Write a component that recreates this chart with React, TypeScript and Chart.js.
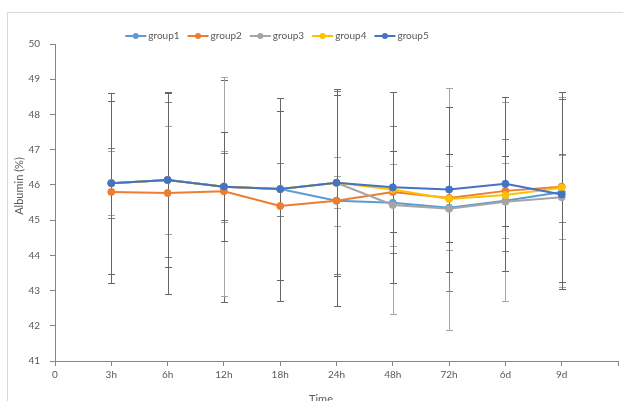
import React, { useEffect, useRef } from "react";
import { Chart, registerables } from "chart.js";
Chart.register(...registerables);

const timeLabels = ["0", "3h", "6h", "12h", "18h", "24h", "48h", "72h", "6d", "9d", ""];
const seriesNames = ["group1", "group2", "group3", "group4", "group5"];
const seriesColors = ["#5B9BD5", "#ED7D31", "#A5A5A5", "#FFC000", "#4472C4"];
const errorColors = ["#A6A6A6", "#666666", "#A6A6A6", "#808080", "#666666"];

const group1 = [46.05, 46.14, 45.95, 45.88, 45.55, 45.49, 45.35, 45.55, 45.8];
const group2 = [45.8, 45.77, 45.82, 45.4, 45.55, 45.8, 45.63, 45.83, 45.95];
const group3 = [46.05, 46.14, 45.95, 45.88, 46.06, 45.43, 45.32, 45.52, 45.65];
const group4 = [46.05, 46.14, 45.95, 45.88, 46.06, 45.87, 45.6, 45.71, 45.92];
const group5 = [46.05, 46.14, 45.95, 45.88, 46.06, 45.93, 45.87, 46.03, 45.73];

const sd1 = [2.57, 2.48, 1.0, 0.75, 0.71, 3.16, 1.2, 1.07, 2.7];
const sd2 = [2.58, 2.87, 3.15, 2.69, 3.0, 1.15, 1.25, 0.99, 2.7];
const sd3 = [0.91, 1.54, 3.1, 2.59, 0.72, 1.17, 3.43, 2.82, 1.2];
const sd4 = [1.0, 2.2, 0.95, 0.75, 2.6, 1.8, 2.6, 1.58, 0.97];
const sd5 = [2.57, 2.48, 1.55, 2.59, 2.66, 2.71, 2.35, 2.47, 2.7];

const means = [group1, group2, group3, group4, group5];
const sds = [sd1, sd2, sd3, sd4, sd5];

const FONT = "Lato, 'Liberation Sans', sans-serif";
const TEXT = "#595959";
const AXIS = "#868686";

const extrasPlugin = {
  id: "extras",
  beforeDatasetsDraw(chart: any) {
    const ctx = chart.ctx;
    const xs = chart.scales.x;
    const ys = chart.scales.y;
    ctx.save();
    for (let s = 0; s < means.length; s++) {
      ctx.strokeStyle = errorColors[s];
      ctx.lineWidth = 1;
      for (let i = 0; i < means[s].length; i++) {
        const px = Math.round(xs.getPixelForValue(i + 1)) + 0.5;
        const top = Math.round(ys.getPixelForValue(means[s][i] + sds[s][i])) + 0.5;
        const bot = Math.round(ys.getPixelForValue(means[s][i] - sds[s][i])) + 0.5;
        ctx.beginPath();
        ctx.moveTo(px, top);
        ctx.lineTo(px, bot);
        ctx.moveTo(px - 3.5, top);
        ctx.lineTo(px + 3.5, top);
        ctx.moveTo(px - 3.5, bot);
        ctx.lineTo(px + 3.5, bot);
        ctx.stroke();
      }
    }
    ctx.restore();
  },
  afterDraw(chart: any) {
    const ctx = chart.ctx;
    ctx.save();
    // legend
    ctx.font = `10px ${FONT}`;
    ctx.textBaseline = "middle";
    ctx.textAlign = "left";
    const widths = seriesNames.map((n) => ctx.measureText(n).width);
    const itemW = widths.map((w) => 21 + 2 + w);
    const gap = 8;
    const total = itemW.reduce((a, b) => a + b, 0) + gap * (itemW.length - 1);
    let x = 277 - total / 2;
    const ly = 36;
    for (let i = 0; i < seriesNames.length; i++) {
      ctx.strokeStyle = seriesColors[i];
      ctx.lineWidth = 2;
      ctx.beginPath();
      ctx.moveTo(x, ly);
      ctx.lineTo(x + 21, ly);
      ctx.stroke();
      ctx.fillStyle = seriesColors[i];
      ctx.beginPath();
      ctx.arc(x + 10.5, ly, 3, 0, Math.PI * 2);
      ctx.fill();
      ctx.fillStyle = TEXT;
      ctx.fillText(seriesNames[i], x + 23, ly);
      x += itemW[i] + gap;
    }
    // axis titles
    ctx.font = `11px ${FONT}`;
    ctx.fillStyle = TEXT;
    ctx.textAlign = "center";
    ctx.textBaseline = "middle";
    ctx.save();
    ctx.translate(19, 186);
    ctx.rotate(-Math.PI / 2);
    ctx.fillText("Albumin (%)", 0, 0);
    ctx.restore();
    ctx.textBaseline = "top";
    ctx.fillText("Time", 321, 394);
    ctx.restore();
  },
};

export default function App() {
  const ref = useRef<HTMLCanvasElement | null>(null);
  useEffect(() => {
    if (!ref.current) return;
    const datasets = means.map((vals, s) => ({
      label: seriesNames[s],
      data: vals.map((v, i) => ({ x: i + 1, y: v })),
      borderColor: seriesColors[s],
      backgroundColor: seriesColors[s],
      pointBackgroundColor: seriesColors[s],
      pointBorderColor: seriesColors[s],
      pointRadius: 3.5,
      pointBorderWidth: 1,
      borderWidth: 2,
      tension: 0,
      order: 4 - s,
    }));
    const chart = new Chart(ref.current, {
      type: "line",
      data: { datasets },
      options: {
        responsive: false,
        animation: false,
        devicePixelRatio: 1,
        layout: { padding: { left: 0, right: 1, top: 44, bottom: 0 } },
        plugins: { legend: { display: false }, tooltip: { enabled: false } },
        scales: {
          x: {
            type: "linear",
            min: 0,
            max: 10,
            afterFit: (scale: any) => {
              scale.height = 40;
            },
            ticks: {
              stepSize: 1,
              autoSkip: false,
              maxRotation: 0,
              padding: 3,
              color: TEXT,
              font: { family: FONT, size: 10 },
              callback: (v: any) => timeLabels[Number(v)] ?? "",
            },
            grid: { drawOnChartArea: false, drawTicks: true, tickLength: 5, color: AXIS },
            border: { color: AXIS, width: 1 },
          },
          y: {
            type: "linear",
            min: 41,
            max: 50,
            afterFit: (scale: any) => {
              scale.width = 55;
            },
            ticks: {
              stepSize: 1,
              padding: 10,
              color: TEXT,
              font: { family: FONT, size: 10 },
            },
            grid: { drawOnChartArea: false, drawTicks: true, tickLength: 5, color: AXIS },
            border: { color: AXIS, width: 1 },
          },
        },
      },
      plugins: [extrasPlugin],
    });
    return () => chart.destroy();
  }, []);
  return (
    <div
      style={{
        position: "fixed",
        left: 0,
        top: 0,
        width: 623,
        height: 401,
        overflow: "hidden",
        background: "#fff",
      }}
    >
      <div
        style={{
          position: "absolute",
          left: 7,
          top: 12,
          width: 700,
          height: 500,
          border: "1px solid #D9D9D9",
        }}
      />
      <canvas
        ref={ref}
        width={623}
        height={401}
        style={{ position: "absolute", left: 0, top: 0, width: 623, height: 401 }}
      />
    </div>
  );
}
